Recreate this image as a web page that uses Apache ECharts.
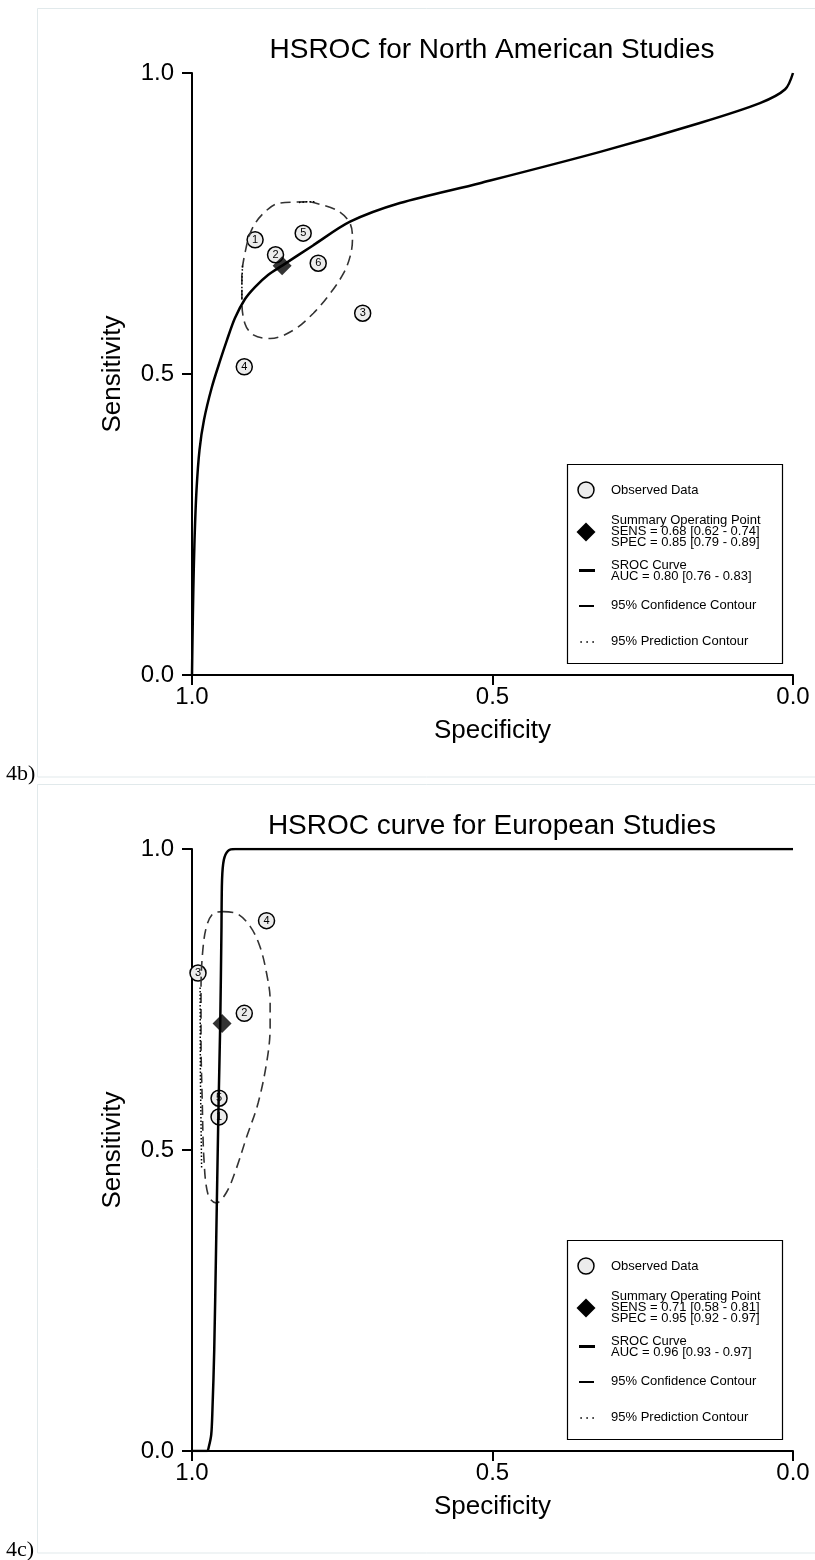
<!DOCTYPE html>
<html>
<head>
<meta charset="utf-8">
<script src="https://cdn.jsdelivr.net/npm/echarts@6/dist/echarts.min.js"></script>
<style>
  html, body { margin: 0; padding: 0; background: #fff; }
  #chart { width: 815px; height: 1560px; }
</style>
</head>
<body>
<div id="chart"></div>
<script>
// Axis ticks shared by both panels (specificity runs 1.0 -> 0.0)
const axisTicks = [0, 0.5, 1];

// ---- Panel 4b: North American studies ----
const naTitle = 'HSROC for North American Studies';
const naStudyIds  = [1, 2, 3, 4, 5, 6];
const naStudySpec = [0.895, 0.861, 0.716, 0.913, 0.815, 0.790];
const naStudySens = [0.723, 0.698, 0.601, 0.512, 0.734, 0.684];
const naSummarySpec = 0.85;
const naSummarySens = 0.68;
const naCurveSpec = [1.0, 0.9992, 0.9978, 0.9958, 0.9925, 0.9875, 0.980, 0.967, 0.953, 0.942, 0.9285, 0.9118, 0.8952, 0.8735, 0.85, 0.798, 0.737, 0.654, 0.521, 0.321, 0.155, 0.055, 0.013, 0.0];
const naCurveSens = [0.0, 0.058, 0.141, 0.224, 0.307, 0.374, 0.424, 0.478, 0.523, 0.556, 0.593, 0.6246, 0.6445, 0.6645, 0.68, 0.714, 0.753, 0.784, 0.817, 0.869, 0.917, 0.950, 0.973, 1.0];
const naConfSpec = [0.804, 0.759, 0.737, 0.733, 0.737, 0.748, 0.770, 0.798, 0.831, 0.870, 0.898, 0.912, 0.917, 0.917, 0.912, 0.901, 0.881, 0.854];
const naConfSens = [0.786, 0.772, 0.750, 0.723, 0.695, 0.667, 0.634, 0.601, 0.573, 0.559, 0.565, 0.584, 0.623, 0.662, 0.700, 0.739, 0.767, 0.784];
const naPredSpec = [0.822, 0.810, 0.796, null, 0.916, 0.917, 0.917];
const naPredSens = [0.785, 0.786, 0.786, null, 0.680, 0.650, 0.623];
const naLegend = [
  'Observed Data',
  'Summary Operating Point\nSENS = 0.68 [0.62 - 0.74]\nSPEC = 0.85 [0.79 - 0.89]',
  'SROC Curve\nAUC = 0.80 [0.76 - 0.83]',
  '95% Confidence Contour',
  '95% Prediction Contour'
];

// ---- Panel 4c: European studies ----
const euTitle = 'HSROC curve for European Studies';
const euStudyIds  = [1, 2, 3, 4, 5];
const euStudySpec = [0.955, 0.913, 0.990, 0.876, 0.955];
const euStudySens = [0.555, 0.727, 0.794, 0.881, 0.586];
const euSummarySpec = 0.95;
const euSummarySens = 0.71;
const euCurveSpec = [1.0, 0.975, 0.972, 0.968, 0.966, 0.963, 0.960, 0.956, 0.953, 0.951, 0.950, 0.947, 0.940, 0.928, 0.0];
const euCurveSens = [0.0, 0.0, 0.007, 0.027, 0.068, 0.168, 0.334, 0.566, 0.712, 0.865, 0.949, 0.982, 0.997, 1.0, 1.0];
const euConfSpec = [0.948, 0.926, 0.903, 0.887, 0.876, 0.870, 0.870, 0.875, 0.890, 0.909, 0.927, 0.943, 0.960, 0.973, 0.980, 0.983, 0.985, 0.985, 0.982, 0.975, 0.963];
const euConfSens = [0.896, 0.893, 0.871, 0.838, 0.794, 0.749, 0.705, 0.650, 0.578, 0.522, 0.467, 0.429, 0.412, 0.425, 0.483, 0.583, 0.683, 0.766, 0.832, 0.874, 0.894];
const euPredSpec = [0.9865, 0.986, 0.984];
const euPredSens = [0.770, 0.620, 0.470];
const euLegend = [
  'Observed Data',
  'Summary Operating Point\nSENS = 0.71 [0.58 - 0.81]\nSPEC = 0.95 [0.92 - 0.97]',
  'SROC Curve\nAUC = 0.96 [0.93 - 0.97]',
  '95% Confidence Contour',
  '95% Prediction Contour'
];

const FONT = '"Liberation Sans", Arial, Helvetica, sans-serif';
const PANEL_SHIFT = 776;          // vertical distance between the two panels
const PLOT = { left: 192, top: 73, width: 601, height: 602 };

const pairs = (xs, ys) => xs.map((x, i) => (x === null ? [null, null] : [x, ys[i]]));
const closed = (xs, ys) => { const p = pairs(xs, ys); p.push(p[0]); return p; };

function axes(idx) {
  const common = {
    gridIndex: idx,
    type: 'value',
    min: axisTicks[0],
    max: axisTicks[axisTicks.length - 1],
    interval: axisTicks[1] - axisTicks[0],
    nameLocation: 'middle',
    nameTextStyle: { fontSize: 26, color: '#000', fontFamily: FONT },
    axisLine: { show: true, onZero: false, lineStyle: { color: '#000', width: 2 } },
    axisTick: { show: true, length: 10, lineStyle: { color: '#000', width: 2 } },
    splitLine: { show: false },
    axisLabel: { fontSize: 24, color: '#000', fontFamily: FONT, formatter: v => v.toFixed(1) }
  };
  return {
    x: Object.assign({}, common, {
      inverse: true, name: 'Specificity', nameGap: 43,
      axisLabel: Object.assign({}, common.axisLabel, { margin: 10 })
    }),
    y: Object.assign({}, common, {
      name: 'Sensitivity', nameGap: 66,
      axisLabel: Object.assign({}, common.axisLabel, { margin: 18 })
    })
  };
}

function panelSeries(idx, d) {
  const base = { xAxisIndex: idx, yAxisIndex: idx, animation: false, silent: true };
  return [
    Object.assign({}, base, {
      type: 'scatter', name: 'Observed Data', z: 2,
      data: d.ids.map((id, i) => [d.spec[i], d.sens[i], id]),
      symbol: 'circle', symbolSize: 16,
      itemStyle: { color: '#ececec', borderColor: '#000', borderWidth: 1.5, opacity: 1 },
      label: { show: true, position: 'inside', formatter: p => String(p.value[2]),
               fontSize: 11, color: '#000', fontFamily: FONT }
    }),
    Object.assign({}, base, {
      type: 'line', name: '95% Confidence Contour', z: 3,
      data: closed(d.confSpec, d.confSens), showSymbol: false, symbol: 'none', smooth: 0.35,
      lineStyle: { color: '#333', width: 1.6, type: [10, 6] }
    }),
    Object.assign({}, base, {
      type: 'line', name: '95% Prediction Contour', z: 3,
      data: pairs(d.predSpec, d.predSens), showSymbol: false, symbol: 'none', connectNulls: false,
      lineStyle: { color: '#000', width: 1.5, type: [1.5, 2] }
    }),
    Object.assign({}, base, {
      type: 'line', name: 'SROC Curve', z: 4,
      data: pairs(d.curveSpec, d.curveSens), showSymbol: false, symbol: 'none', smooth: 0.3,
      lineStyle: { color: '#000', width: 2.5 }
    }),
    Object.assign({}, base, {
      type: 'scatter', name: 'Summary Operating Point', z: 5,
      data: [[d.sumSpec, d.sumSens]], symbol: 'diamond', symbolSize: 19,
      itemStyle: { color: '#000' }
    })
  ];
}

function panelGraphics(dy, label, title, legend) {
  const txt = (x, y, text, extra) => ({
    type: 'text', z: 20,
    style: Object.assign({ x, y: y + dy, text, fill: '#000', fontFamily: FONT }, extra)
  });
  const els = [
    { type: 'rect', z: 0, shape: { x: 37.5, y: 8.5 + dy, width: 800, height: 768.5 },
      style: { fill: 'none', stroke: '#e1e9eb', lineWidth: 1 } },
    txt(492, 50, title, { fontSize: 28, textAlign: 'center', textVerticalAlign: 'middle' }),
    { type: 'text', z: 20, style: { x: 6, y: 785 + dy, text: label, fill: '#000',
      fontFamily: '"Liberation Serif", "Times New Roman", serif', fontSize: 22, textVerticalAlign: 'bottom' } },
    // legend box
    { type: 'rect', z: 18, shape: { x: 567.5, y: 464.5 + dy, width: 215, height: 199 },
      style: { fill: '#fff', stroke: '#000', lineWidth: 1.2 } },
    { type: 'circle', z: 19, shape: { cx: 586, cy: 490 + dy, r: 8 },
      style: { fill: '#ececec', stroke: '#000', lineWidth: 1.5 } },
    { type: 'polygon', z: 19, shape: { points: [[586, 522.5 + dy], [595.5, 532 + dy], [586, 541.5 + dy], [576.5, 532 + dy]] },
      style: { fill: '#000' } },
    { type: 'rect', z: 19, shape: { x: 579, y: 569 + dy, width: 16, height: 3 }, style: { fill: '#000' } },
    { type: 'rect', z: 19, shape: { x: 579, y: 605 + dy, width: 15, height: 2 }, style: { fill: '#000' } }
  ];
  [580.5, 586.5, 592.5].forEach(x => els.push(
    { type: 'rect', z: 19, shape: { x, y: 641 + dy, width: 1.2, height: 2 }, style: { fill: '#000' } }));
  const rowsY = [490, 531.5, 571, 605.7, 641.7];
  legend.forEach((t, i) => els.push(
    txt(611, rowsY[i], t, { fontSize: 13, lineHeight: 11, textVerticalAlign: 'middle' })));
  return els;
}

const na = { ids: naStudyIds, spec: naStudySpec, sens: naStudySens, sumSpec: naSummarySpec, sumSens: naSummarySens,
  curveSpec: naCurveSpec, curveSens: naCurveSens, confSpec: naConfSpec, confSens: naConfSens,
  predSpec: naPredSpec, predSens: naPredSens };
const eu = { ids: euStudyIds, spec: euStudySpec, sens: euStudySens, sumSpec: euSummarySpec, sumSens: euSummarySens,
  curveSpec: euCurveSpec, curveSens: euCurveSens, confSpec: euConfSpec, confSens: euConfSens,
  predSpec: euPredSpec, predSens: euPredSens };

const a0 = axes(0), a1 = axes(1);
const option = {
  animation: false,
  backgroundColor: '#fff',
  grid: [
    Object.assign({}, PLOT, { containLabel: false, outerBoundsMode: 'none' }),
    Object.assign({}, PLOT, { top: PLOT.top + PANEL_SHIFT, containLabel: false, outerBoundsMode: 'none' })
  ],
  xAxis: [a0.x, a1.x],
  yAxis: [a0.y, a1.y],
  series: panelSeries(0, na).concat(panelSeries(1, eu)),
  graphic: panelGraphics(0, '4b)', naTitle, naLegend).concat(panelGraphics(PANEL_SHIFT, '4c)', euTitle, euLegend))
};

const chart = echarts.init(document.getElementById('chart'), null, { renderer: 'canvas' });
chart.setOption(option);
</script>
</body>
</html>
